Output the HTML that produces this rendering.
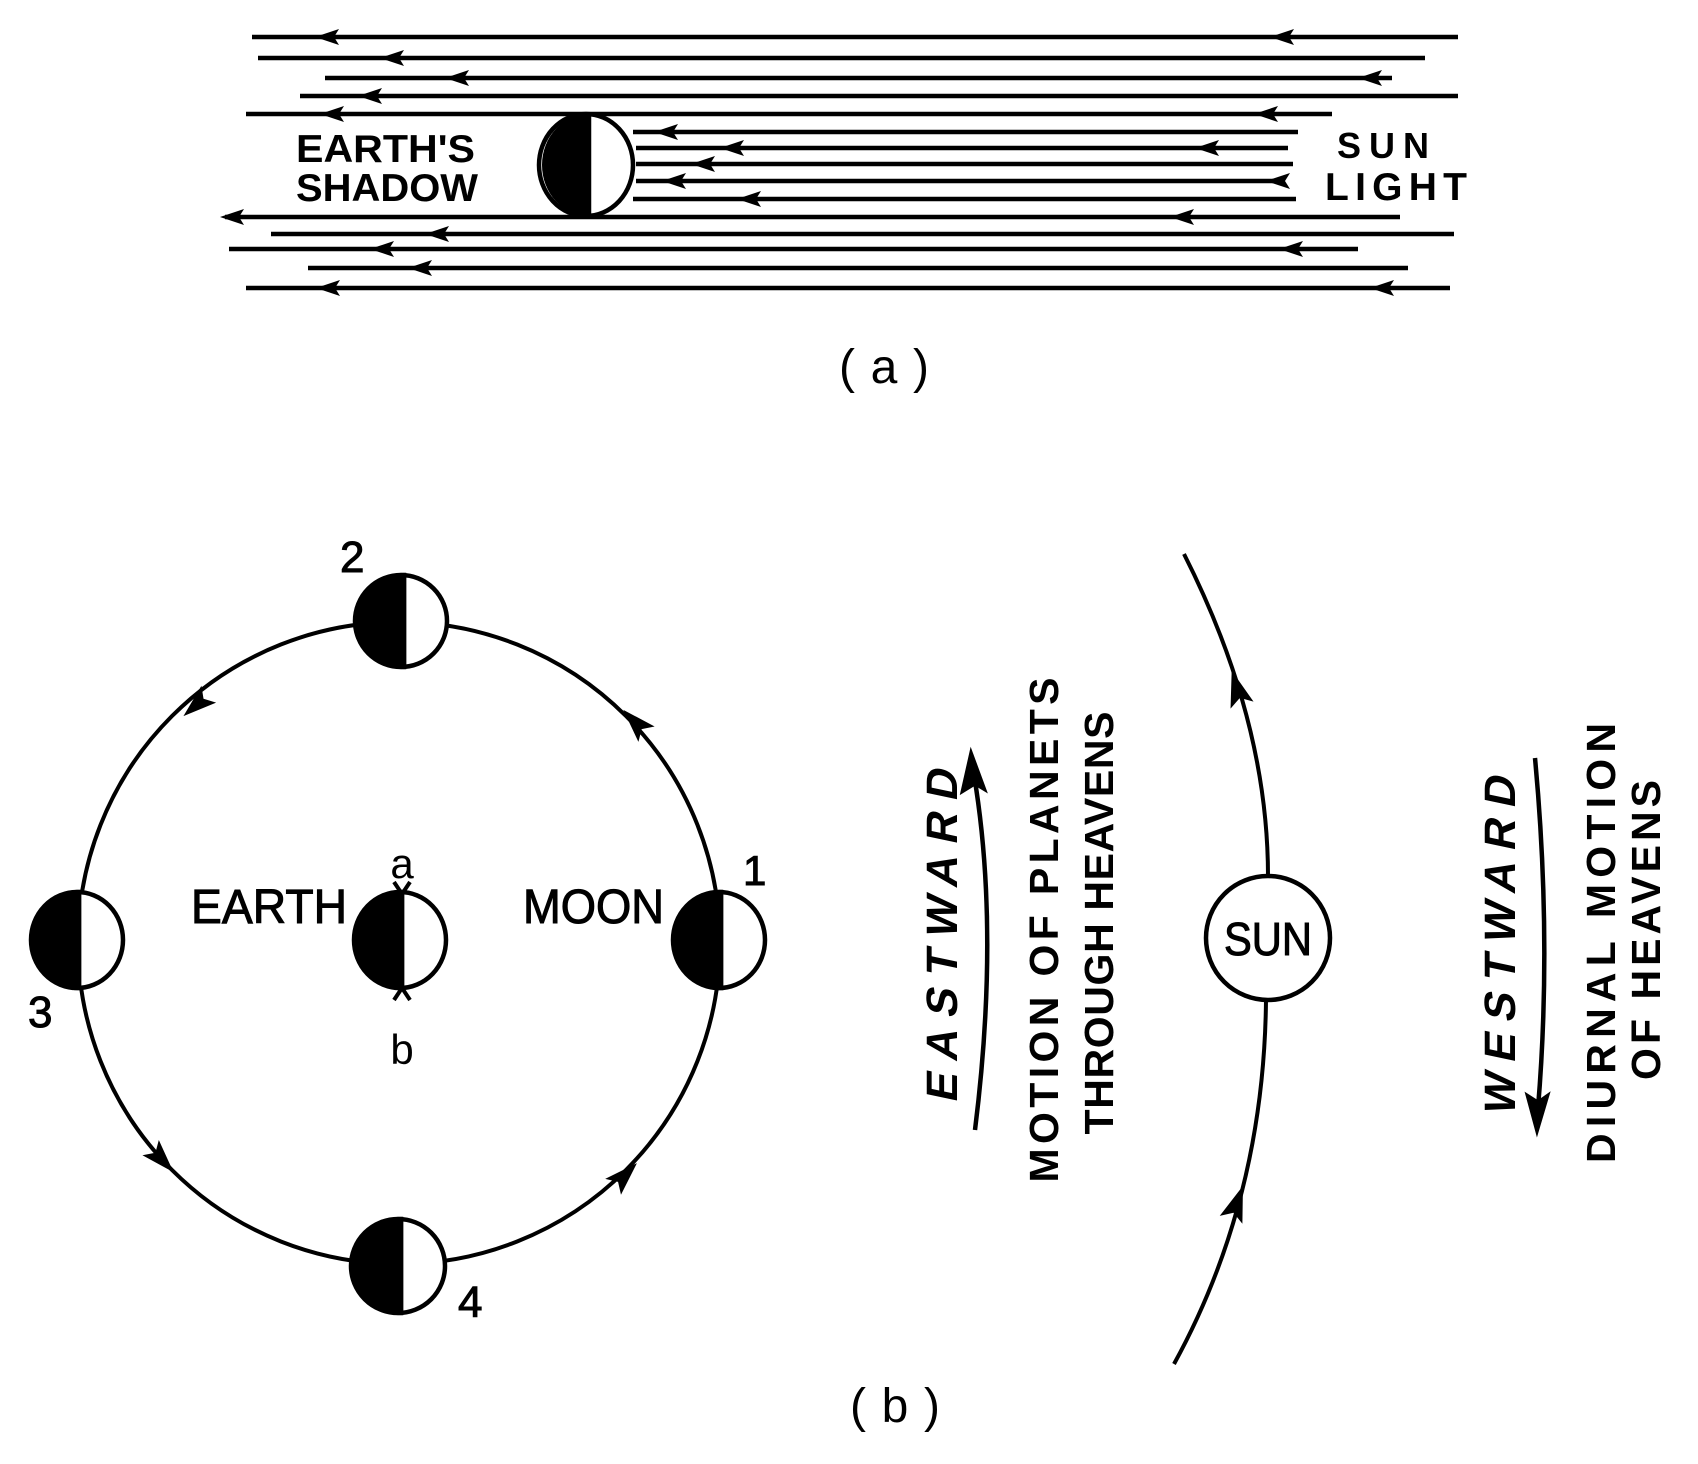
<!DOCTYPE html>
<html><head><meta charset="utf-8"><style>
html,body{margin:0;padding:0;background:#fff;}
svg{display:block;}
text{font-family:"Liberation Sans",sans-serif;fill:#000;}
</style></head><body>
<svg width="1698" height="1464" viewBox="0 0 1698 1464" xmlns="http://www.w3.org/2000/svg">
<defs>
<path id="ah" d="M10,0 L-14,-8 L-9,0 L-14,8 Z" fill="#000"/>
</defs>
<g stroke="#000" stroke-width="4.5" fill="none">
<line x1="252" y1="37" x2="1458" y2="37"/>
<line x1="258" y1="58" x2="1425" y2="58"/>
<line x1="325" y1="78" x2="1392" y2="78"/>
<line x1="300" y1="96" x2="1458" y2="96"/>
<line x1="246" y1="114" x2="1332" y2="114"/>
<line x1="633" y1="132" x2="1298" y2="132"/>
<line x1="636" y1="148" x2="1288" y2="148"/>
<line x1="636" y1="164" x2="1293" y2="164"/>
<line x1="636" y1="181" x2="1283" y2="181"/>
<line x1="633" y1="199" x2="1296" y2="199"/>
<line x1="225" y1="217" x2="1400" y2="217"/>
<line x1="271" y1="234" x2="1454" y2="234"/>
<line x1="229" y1="249" x2="1358" y2="249"/>
<line x1="308" y1="268" x2="1408" y2="268"/>
<line x1="246" y1="288" x2="1450" y2="288"/>
</g>
<g>
<use href="#ah" transform="translate(325,37) rotate(180)"/>
<use href="#ah" transform="translate(1280,37) rotate(180)"/>
<use href="#ah" transform="translate(390,58) rotate(180)"/>
<use href="#ah" transform="translate(455,78) rotate(180)"/>
<use href="#ah" transform="translate(1368,78) rotate(180)"/>
<use href="#ah" transform="translate(368,96) rotate(180)"/>
<use href="#ah" transform="translate(330,114) rotate(180)"/>
<use href="#ah" transform="translate(1264,114) rotate(180)"/>
<use href="#ah" transform="translate(664,132) rotate(180)"/>
<use href="#ah" transform="translate(730,148) rotate(180)"/>
<use href="#ah" transform="translate(1205,148) rotate(180)"/>
<use href="#ah" transform="translate(701,164) rotate(180)"/>
<use href="#ah" transform="translate(672,181) rotate(180)"/>
<use href="#ah" transform="translate(1276,181) rotate(180)"/>
<use href="#ah" transform="translate(747,199) rotate(180)"/>
<use href="#ah" transform="translate(230,217) rotate(180)"/>
<use href="#ah" transform="translate(1180,217) rotate(180)"/>
<use href="#ah" transform="translate(435,234) rotate(180)"/>
<use href="#ah" transform="translate(380,249) rotate(180)"/>
<use href="#ah" transform="translate(1289,249) rotate(180)"/>
<use href="#ah" transform="translate(418,268) rotate(180)"/>
<use href="#ah" transform="translate(326,288) rotate(180)"/>
<use href="#ah" transform="translate(1380,288) rotate(180)"/>
</g>
<ellipse cx="586" cy="165" rx="47" ry="51" fill="#fff" stroke="#000" stroke-width="4.5"/>
<path d="M589,114 A47,51 0 0 0 589,216 Z" fill="#000"/>
<line x1="589" y1="114" x2="589" y2="216" stroke="#000" stroke-width="4.5"/>
<text x="296" y="162" font-size="39" font-weight="bold" textLength="179" lengthAdjust="spacingAndGlyphs">EARTH'S</text>
<text x="296" y="201" font-size="39" font-weight="bold" textLength="182" lengthAdjust="spacingAndGlyphs">SHADOW</text>
<text x="1337" y="158" font-size="36" font-weight="bold" textLength="92" lengthAdjust="spacing">SUN</text>
<text x="1325" y="200" font-size="39" font-weight="bold" textLength="142" lengthAdjust="spacing">LIGHT</text>
<text x="884" y="383" font-size="48" text-anchor="middle" textLength="90" lengthAdjust="spacing">(a)</text>

<circle cx="399" cy="943" r="321" fill="none" stroke="#000" stroke-width="4"/>
<g>
<use href="#ah" transform="translate(194,707) rotate(139) scale(1.4)"/>
<use href="#ah" transform="translate(633,720) rotate(-133.6) scale(1.4)"/>
<use href="#ah" transform="translate(164,1162) rotate(47) scale(1.4)"/>
<use href="#ah" transform="translate(627,1173) rotate(-44.8) scale(1.4)"/>
</g>
<g stroke="#000" stroke-width="4.5">
<circle cx="401" cy="621" r="46" fill="#fff"/>
<path d="M404,575 A46,46 0 0 0 404,667 Z" fill="#000"/>
<line x1="404" y1="575" x2="404" y2="667"/>
<circle cx="398" cy="1266" r="47" fill="#fff"/>
<path d="M401,1219 A47,47 0 0 0 401,1313 Z" fill="#000"/>
<line x1="401" y1="1219" x2="401" y2="1313"/>
<ellipse cx="77" cy="940" rx="46" ry="48" fill="#fff"/>
<path d="M79,892 A46,48 0 0 0 79,988 Z" fill="#000"/>
<line x1="79" y1="892" x2="79" y2="988"/>
<ellipse cx="400" cy="940" rx="46" ry="48" fill="#fff"/>
<path d="M402,892 A46,48 0 0 0 402,988 Z" fill="#000"/>
<line x1="402" y1="892" x2="402" y2="988"/>
<ellipse cx="719" cy="940" rx="46" ry="48" fill="#fff"/>
<path d="M721,892 A46,48 0 0 0 721,988 Z" fill="#000"/>
<line x1="721" y1="892" x2="721" y2="988"/>
</g>
<path d="M394,882 L402,894 L410,882 M394,1000 L402,988 L410,1000" fill="none" stroke="#000" stroke-width="4"/>
<text x="402" y="878" font-size="42" text-anchor="middle">a</text>
<text x="402" y="1064" font-size="42" text-anchor="middle">b</text>
<text x="191" y="923" font-size="48" textLength="156" lengthAdjust="spacingAndGlyphs" stroke="#000" stroke-width="1">EARTH</text>
<text x="523" y="923" font-size="48" textLength="141" lengthAdjust="spacingAndGlyphs" stroke="#000" stroke-width="1">MOON</text>
<text x="340" y="572" font-size="44" stroke="#000" stroke-width="1">2</text>
<text x="28" y="1027" font-size="44" stroke="#000" stroke-width="1">3</text>
<text x="458" y="1317" font-size="44" stroke="#000" stroke-width="1">4</text>
<text x="743" y="885" font-size="42" stroke="#000" stroke-width="1">1</text>

<path d="M1184,554 Q1268,720 1268,876" fill="none" stroke="#000" stroke-width="4"/>
<path d="M1266,1000 Q1264,1200 1174,1364" fill="none" stroke="#000" stroke-width="4"/>
<use href="#ah" transform="translate(1236,685) rotate(-106.7) scale(1.5)"/>
<use href="#ah" transform="translate(1238,1200) rotate(-70.7) scale(1.5)"/>
<circle cx="1268" cy="938" r="62" fill="#fff" stroke="#000" stroke-width="4.5"/>
<text x="1268" y="955" font-size="46" text-anchor="middle" textLength="88" lengthAdjust="spacingAndGlyphs" stroke="#000" stroke-width="1">SUN</text>

<path d="M975,1130 Q1000,930 974,775" fill="none" stroke="#000" stroke-width="4.5"/>
<path d="M971,752 L985,790 L975,784 L962,792 Z" fill="#000" stroke="#000" stroke-width="3"/>
<text transform="translate(957,937) rotate(-90) skewX(-12)" font-size="44" font-weight="bold" text-anchor="middle" textLength="333" lengthAdjust="spacing">EASTWARD</text>
<text transform="translate(1058,930) rotate(-90)" font-size="41" font-weight="bold" text-anchor="middle" textLength="505" lengthAdjust="spacing">MOTION OF PLANETS</text>
<text transform="translate(1113,923) rotate(-90)" font-size="41" font-weight="bold" text-anchor="middle" textLength="423" lengthAdjust="spacing">THROUGH HEAVENS</text>

<path d="M1535,758 Q1552,940 1538,1108" fill="none" stroke="#000" stroke-width="4.5"/>
<path d="M1537,1132 L1527,1095 L1538,1102 L1548,1095 Z" fill="#000" stroke="#000" stroke-width="3"/>
<text transform="translate(1515,947) rotate(-90) skewX(-12)" font-size="44" font-weight="bold" text-anchor="middle" textLength="339" lengthAdjust="spacing">WESTWARD</text>
<text transform="translate(1615,943) rotate(-90)" font-size="41" font-weight="bold" text-anchor="middle" textLength="440" lengthAdjust="spacing">DIURNAL MOTION</text>
<text transform="translate(1660,930) rotate(-90)" font-size="41" font-weight="bold" text-anchor="middle" textLength="300" lengthAdjust="spacing">OF HEAVENS</text>

<text x="895" y="1422" font-size="48" text-anchor="middle" textLength="90" lengthAdjust="spacing">(b)</text>
</svg>
</body></html>
